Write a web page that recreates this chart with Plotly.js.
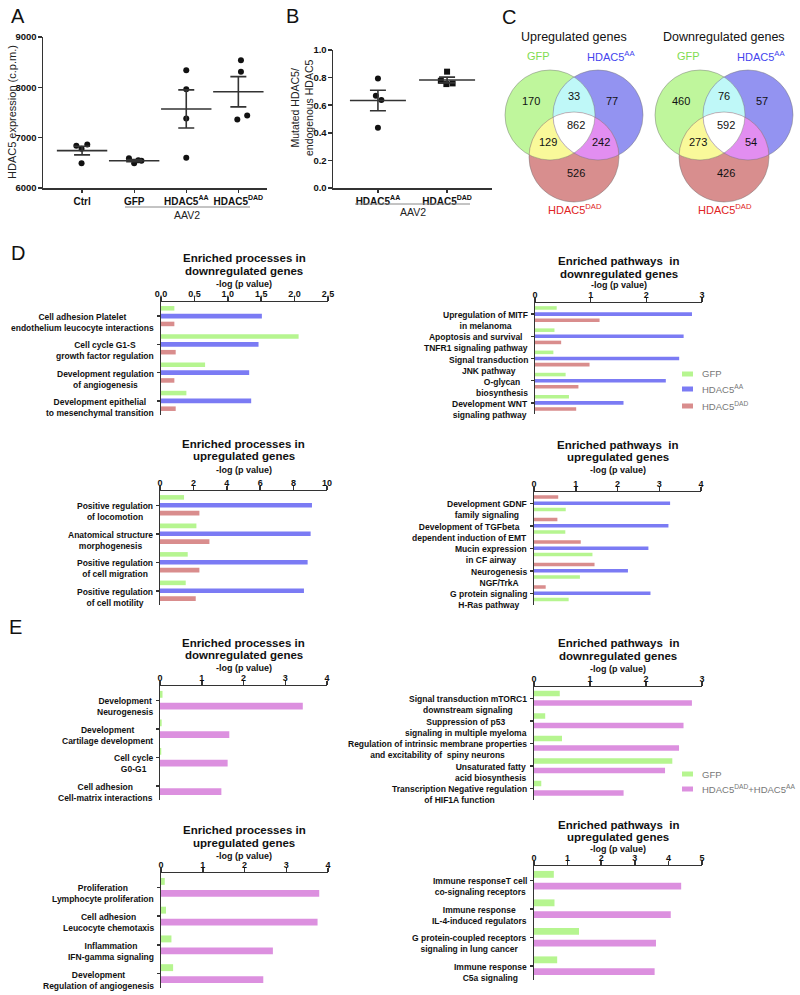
<!DOCTYPE html>
<html><head><meta charset="utf-8">
<script src="https://cdn.plot.ly/plotly-3.0.1.min.js"></script>
<style>html,body{margin:0;padding:0;background:#fff}#chart{width:800px;height:995px}</style>
</head><body><div id="chart"></div>
<script>
// ---------- DATA ----------
const groupsA = ['Ctrl', 'GFP', 'HDAC5<sup>AA</sup>', 'HDAC5<sup>DAD</sup>'];
const ctrlA = [6838, 6778, 6865, 6492];
const gfpA = [6590, 6490, 6550, 6540];
const aaA = [8340, 7960, 7380, 6600];
const dadA = [8540, 8310, 7440, 7360];

const groupsB = ['HDAC5<sup>AA</sup>', 'HDAC5<sup>DAD</sup>'];
const aaB = [0.794, 0.668, 0.637, 0.436];
const dadB = [0.843, 0.777, 0.753, 0.758];

const vennNames = ['GFP', 'HDAC5<sup>AA</sup>', 'HDAC5<sup>DAD</sup>'];
const vennRegions = ['GFP', 'GFP&AA', 'AA', 'all', 'GFP&DAD', 'AA&DAD', 'DAD'];
const upCounts = [170, 33, 77, 862, 129, 242, 526];
const downCounts = [460, 76, 57, 592, 273, 54, 426];

const catsDTL = ['Cell adhesion Platelet<br>endothelium leucocyte interactions', 'Cell cycle G1-S<br>growth factor regulation', 'Development regulation<br>of angiogenesis', 'Development epithelial<br>to mesenchymal transition'];
const gfpDTL = [0.20, 2.06, 0.66, 0.38];
const aaDTL = [1.51, 1.46, 1.32, 1.35];
const dadDTL = [0.20, 0.22, 0.20, 0.22];

const catsDTR = ['Upregulation of MITF<br>in melanoma', 'Apoptosis and survival<br>TNFR1 signaling pathway', 'Signal transduction<br>JNK pathway', 'O-glycan<br>biosynthesis', 'Development WNT<br>signaling pathway'];
const gfpDTR = [0.39, 0.35, 0.33, 0.55, 0.61];
const aaDTR = [2.82, 2.67, 2.59, 2.35, 1.59];
const dadDTR = [1.16, 0.47, 0.98, 0.78, 0.74];

const catsDBL = ['Positive regulation<br>of locomotion', 'Anatomical structure<br>morphogenesis', 'Positive regulation<br>of cell migration', 'Positive regulation<br>of cell motility'];
const gfpDBL = [1.44, 2.18, 1.66, 1.54];
const aaDBL = [9.10, 9.02, 8.84, 8.62];
const dadDBL = [2.36, 2.96, 2.36, 2.14];

const catsDBR = ['Development GDNF<br>family signaling', 'Development of TGFbeta<br>dependent induction of EMT', 'Mucin expression<br>in CF airway', 'Neurogenesis<br>NGF/TrkA', 'G protein signaling<br>H-Ras pathway'];
const dadDBR = [0.58, 0.56, 1.12, 1.45, 0.28];
const aaDBR = [3.26, 3.22, 2.74, 2.25, 2.79];
const gfpDBR = [0.76, 0.75, 1.40, 1.10, 0.83];

const catsETL = ['Development<br>Neurogenesis', 'Development<br>Cartilage development', 'Cell cycle<br>G0-G1', 'Cell adhesion<br>Cell-matrix interactions'];
const gfpETL = [0.06, 0.04, 0.03, 0.0];
const bothETL = [3.42, 1.66, 1.62, 1.47];

const catsETR = ['Signal transduction mTORC1<br>downstream signaling', 'Suppression of p53<br>signaling in multiple myeloma', 'Regulation of intrinsic membrane properties<br>and excitability of  spiny neurons', 'Unsaturated fatty<br>acid biosynthesis', 'Transcription Negative regulation<br>of HIF1A function'];
const gfpETR = [0.46, 0.20, 0.50, 2.47, 0.13];
const bothETR = [2.82, 2.67, 2.59, 2.34, 1.60];

const catsEBL = ['Proliferation<br>Lymphocyte proliferation', 'Cell adhesion<br>Leucocyte chemotaxis', 'Inflammation<br>IFN-gamma signaling', 'Development<br>Regulation of angiogenesis'];
const gfpEBL = [0.09, 0.12, 0.25, 0.29];
const bothEBL = [3.79, 3.75, 2.68, 2.45];

const catsEBR = ['Immune responseT cell<br>co-signaling receptors', 'Immune response<br>IL-4-induced regulators', 'G protein-coupled receptors<br>signaling in lung cancer', 'Immune response<br>C5a signaling'];
const gfpEBR = [0.59, 0.61, 1.34, 0.69];
const bothEBR = [4.38, 4.07, 3.63, 3.59];

const legendD = ['GFP', 'HDAC5<sup>AA</sup>', 'HDAC5<sup>DAD</sup>'];
const legendE = ['GFP', 'HDAC5<sup>DAD</sup>+HDAC5<sup>AA</sup>'];

// ---------- STYLE / LAYOUT HELPERS ----------
const W = 800, H = 995;
const FONT = 'Arial, "Liberation Sans", sans-serif';
const GREEN = '#b6f590', BLUE = '#7b7bf4', RED = '#d98d8d', PINK = '#dc90df';
const AX = '#333333';
const X = px => px / W, Y = py => 1 - py / H;
const dom = (a, b) => [X(a), X(b)];
const domY = (top, bot) => [Y(bot), Y(top)];
const mean = a => a.reduce((s, v) => s + v, 0) / a.length;
const sem = a => { const m = mean(a); return Math.sqrt(a.reduce((s, v) => s + (v - m) ** 2, 0) / (a.length - 1)) / Math.sqrt(a.length); };

const traces = [];
const layout = {
  width: W, height: H, margin: {l: 0, r: 0, t: 0, b: 0},
  paper_bgcolor: '#fff', plot_bgcolor: 'rgba(0,0,0,0)',
  showlegend: false, barmode: 'group', bargap: 0.17, bargroupgap: 0.42,
  font: {family: FONT, color: '#222'},
  annotations: [], shapes: []
};
function ann(x, y, text, o = {}) {
  layout.annotations.push(Object.assign({xref: 'paper', yref: 'paper', x: X(x), y: Y(y), text: text, showarrow: false,
    xanchor: 'center', yanchor: 'middle', font: {family: FONT, size: 11, color: '#111'}}, o));
}

// ---------- PANEL A / B (dot plots with mean ± SEM) ----------
const jitA = [[-0.11, -0.01, 0.10, -0.01], [-0.10, 0.0, 0.08, 0.14], [0, 0, 0, 0], [0.05, 0.05, 0.17, -0.02]];
const jitB = [[0, -0.03, 0.05, 0], [0, -0.09, -0.01, 0.08]];
function dotPanel(idx, groups, sets, jit, symbols, xdom, ydom, xr, yr, dtick, fmt, meanSize) {
  const xa = 'x' + idx, ya = 'y' + idx;
  sets.forEach((vals, g) => {
    traces.push({type: 'scatter', mode: 'markers', xaxis: xa, yaxis: ya, name: groups[g],
      x: vals.map((v, i) => g + jit[g][i]), y: vals,
      marker: {symbol: symbols[g], size: 6, color: '#111'}, cliponaxis: false});
  });
  traces.push({type: 'scatter', mode: 'markers', xaxis: xa, yaxis: ya, name: 'mean ± SEM',
    x: groups.map((_, g) => g), y: sets.map(mean),
    marker: {symbol: 'line-ew', size: meanSize, color: AX, line: {width: 1.6, color: AX}},
    error_y: {type: 'data', array: sets.map(sem), visible: true, color: AX, thickness: 1.6, width: 8}});
  const key = idx === 1 ? '' : idx;
  layout['xaxis' + key] = {domain: xdom, anchor: ya, range: xr, tickvals: groups.map((_, g) => g), ticktext: groups,
    showline: true, linecolor: AX, linewidth: 1.5, ticks: 'outside', ticklen: 3, tickcolor: AX, tickwidth: 1.2,
    showgrid: false, zeroline: false, tickfont: {family: FONT, size: 10, weight: 'bold', color: '#111'}};
  layout['yaxis' + key] = {domain: ydom, anchor: xa, range: yr, dtick: dtick, tickformat: fmt,
    showline: true, linecolor: AX, linewidth: 1.5, ticks: 'outside', ticklen: 4, tickcolor: AX, tickwidth: 1.5,
    ticklabelstandoff: -1,
    showgrid: false, zeroline: false, tickfont: {family: FONT, size: 9.5, weight: 'bold', color: '#111'}};
}
dotPanel(1, groupsA, [ctrlA, gfpA, aaA, dadA], jitA, ['circle', 'circle', 'circle', 'circle'],
  dom(43, 267), domY(37, 188), [-0.75, 3.55], [6000, 9000], 1000, 'd', 36);
dotPanel(2, groupsB, [aaB, dadB], jitB, ['circle', 'square'],
  dom(333, 492), domY(50, 188), [-0.65, 1.65], [0, 1], 0.2, '.1f', 40);

ann(12, 112, 'HDAC5 expression (c.p.m.)', {textangle: -90, font: {family: FONT, size: 11, color: '#222'}});
ann(302, 108, 'Mutated HDAC5/<br>endogenous HDAC5', {textangle: -90, font: {family: FONT, size: 10.5, color: '#222'}});
layout.shapes.push({type: 'line', xref: 'paper', yref: 'paper', x0: X(125), x1: X(250), y0: Y(207), y1: Y(207), line: {color: '#888', width: 1}});
layout.shapes.push({type: 'line', xref: 'paper', yref: 'paper', x0: X(355), x1: X(470), y0: Y(204), y1: Y(204), line: {color: '#888', width: 1}});
ann(187, 215, 'AAV2', {font: {family: FONT, size: 10.5, color: '#222'}});
ann(413, 212, 'AAV2', {font: {family: FONT, size: 10.5, color: '#222'}});

// panel letters
[['A', 18, 16], ['B', 292, 16], ['C', 509, 17], ['D', 18, 253], ['E', 15, 627]].forEach(l =>
  ann(l[1], l[2], l[0], {font: {family: FONT, size: 20, color: '#111'}}));

// ---------- PANEL C (Venn diagrams) ----------
const VR = 45;
const vennOffsets = [[-24, 0], [24, 0], [0, 42]]; // GFP, AA, DAD centre offsets
const vennFill = {single: ['#bff69c', '#9393f1', '#d88e8e'], 'GFP&AA': '#bff8f8', 'GFP&DAD': '#f9f99a', 'AA&DAD': '#e28ef1', all: '#ffffff'};
const vennTextColors = ['#7fdc50', '#4444ee', '#e02424'];
const labelOffsets = [[-43, -14], [0, -19], [38, -14], [2, 10], [-26, 27], [27, 27], [2, 58]];
function pathOf(cs) {
  const pts = [];
  cs.forEach((c, i) => {
    for (let k = 0; k < 720; k++) {
      const t = k / 720 * 2 * Math.PI, p = [c.x + c.r * Math.cos(t), c.y + c.r * Math.sin(t)];
      if (cs.every((o, j) => j === i || Math.hypot(p[0] - o.x, p[1] - o.y) <= o.r + 1e-6)) pts.push(p);
    }
  });
  const cx = mean(pts.map(p => p[0])), cy = mean(pts.map(p => p[1]));
  pts.sort((a, b) => Math.atan2(a[1] - cy, a[0] - cx) - Math.atan2(b[1] - cy, b[0] - cx));
  return 'M' + pts.map(p => X(p[0]).toFixed(5) + ',' + Y(p[1]).toFixed(5)).join('L') + 'Z';
}
function venn(ox, oy, title, counts) {
  const cs = vennOffsets.map(o => ({x: ox + o[0], y: oy + o[1], r: VR}));
  cs.forEach((c, i) => layout.shapes.push({type: 'circle', xref: 'paper', yref: 'paper',
    x0: X(c.x - c.r), x1: X(c.x + c.r), y0: Y(c.y + c.r), y1: Y(c.y - c.r), fillcolor: vennFill.single[i], line: {width: 0}}));
  [[[0, 1], 'GFP&AA'], [[0, 2], 'GFP&DAD'], [[1, 2], 'AA&DAD'], [[0, 1, 2], 'all']].forEach(r =>
    layout.shapes.push({type: 'path', xref: 'paper', yref: 'paper', path: pathOf(r[0].map(i => cs[i])), fillcolor: vennFill[r[1]], line: {width: 0}}));
  cs.forEach((c, i) => layout.shapes.push({type: 'circle', xref: 'paper', yref: 'paper',
    x0: X(c.x - c.r), x1: X(c.x + c.r), y0: Y(c.y + c.r), y1: Y(c.y - c.r), line: {width: 1, color: 'rgba(110,110,110,0.45)'}}));
  counts.forEach((v, i) => ann(ox + labelOffsets[i][0], oy + labelOffsets[i][1], String(v), {font: {family: FONT, size: 11, color: '#111'}}));
  ann(ox, 37, title, {font: {family: FONT, size: 12.5, color: '#111'}});
  ann(ox - 36, 56, vennNames[0], {font: {family: FONT, size: 11, color: vennTextColors[0]}});
  ann(ox + 37, 56, vennNames[1], {font: {family: FONT, size: 11, color: vennTextColors[1]}});
  ann(ox + 1, 209, vennNames[2], {font: {family: FONT, size: 11, color: vennTextColors[2]}});
}
venn(574, 115, 'Upregulated genes', upCounts);
venn(724, 115, 'Downregulated genes', downCounts);

// ---------- PANELS D / E (horizontal grouped bars) ----------
function barPanel(idx, cats, series, box, maxX, dtick, fmt, titles) {
  const xa = 'x' + idx, ya = 'y' + idx;
  series.forEach(s => traces.push({type: 'bar', orientation: 'h', xaxis: xa, yaxis: ya, name: s.name,
    y: cats, x: s.vals, marker: {color: s.color, line: {width: 0}}}));
  layout['xaxis' + idx] = {domain: dom(box[0], box[1]), anchor: ya, side: 'top', range: [0, maxX], dtick: dtick, tickformat: fmt,
    showline: true, linecolor: AX, linewidth: 1.5, ticks: 'outside', ticklen: 4, tickcolor: AX, tickwidth: 1.5,
    ticklabelstandoff: -4,
    showgrid: false, zeroline: false, tickfont: {family: FONT, size: 9, weight: 'bold', color: '#111'}};
  layout['yaxis' + idx] = {domain: domY(box[2], box[3]), anchor: xa, type: 'category', range: [cats.length - 0.5, -0.5],
    showline: true, linecolor: AX, linewidth: 1.5, ticks: 'outside', ticklen: 3, tickcolor: AX, tickwidth: 1.5,
    showticklabels: false, showgrid: false, zeroline: false};
  // category labels: centred two-line blocks, first line level with the tick
  cats.forEach(c => layout.annotations.push({xref: 'paper', yref: ya, x: X(box[0] - 5), y: c, text: c,
    showarrow: false, xanchor: 'right', yanchor: 'top', align: 'center', yshift: 6,
    font: {family: FONT, size: 8.5, weight: 'bold', color: '#111'}}));
  const cx = (box[0] + box[1]) / 2;
  ann(cx, titles[0] - 1, titles[3], {font: {family: FONT, size: 11.5, weight: 'bold', color: '#111'}});
  ann(cx, titles[1] - 1, titles[4], {font: {family: FONT, size: 11.5, weight: 'bold', color: '#111'}});
  ann(cx, titles[2] - 1.5, '-log (p value)', {font: {family: FONT, size: 9, weight: 'bold', color: '#111'}});
}
const sG = v => ({name: legendD[0], vals: v, color: GREEN});
const sA = v => ({name: legendD[1], vals: v, color: BLUE});
const sD = v => ({name: legendD[2], vals: v, color: RED});
const sP = v => ({name: legendE[1], vals: v, color: PINK});

barPanel(3, catsDTL, [sG(gfpDTL), sA(aaDTL), sD(dadDTL)], [161, 328, 302, 415], 2.5, 0.5, '.1f',
  [259, 272, 285, 'Enriched processes in', 'downregulated genes']);
barPanel(4, catsDTR, [sG(gfpDTR), sA(aaDTR), sD(dadDTR)], [535, 702, 303, 414], 3, 1, 'd',
  [262, 275, 287, 'Enriched pathways  in', 'downregulated genes']);
barPanel(5, catsDBL, [sG(gfpDBL), sA(aaDBL), sD(dadDBL)], [160, 327, 491, 605], 10, 2, 'd',
  [445, 457, 472, 'Enriched processes in', 'upregulated genes']);
barPanel(6, catsDBR, [sD(dadDBR), sA(aaDBR), sG(gfpDBR)], [534, 701, 492, 604.5], 4, 1, 'd',
  [446, 458, 472, 'Enriched pathways  in', 'upregulated genes']);
barPanel(7, catsETL, [sG(gfpETL), sP(bothETL)], [160, 327, 686, 800], 4, 1, 'd',
  [644, 656, 669.5, 'Enriched processes in', 'downregulated genes']);
barPanel(8, catsETR, [sG(gfpETR), sP(bothETR)], [534, 702, 687, 799.5], 3, 1, 'd',
  [644, 657, 670, 'Enriched pathways  in', 'downregulated genes']);
barPanel(9, catsEBL, [sG(gfpEBL), sP(bothEBL)], [161, 328, 873, 988], 4, 1, 'd',
  [831, 844, 857, 'Enriched processes in', 'upregulated genes']);
barPanel(10, catsEBR, [sG(gfpEBR), sP(bothEBR)], [534, 702, 866, 980], 5, 1, 'd',
  [826, 838, 850, 'Enriched pathways  in', 'upregulated genes']);

// manual legends (flat swatches as in the original)
function legendBox(x, y, names, colors) {
  names.forEach((n, i) => {
    const yy = y[i];
    layout.shapes.push({type: 'rect', xref: 'paper', yref: 'paper', x0: X(x), x1: X(x + 11), y0: Y(yy + 2.5), y1: Y(yy - 2.5), fillcolor: colors[i], line: {width: 0}});
    ann(x + 18, yy, n, {xanchor: 'left', font: {family: FONT, size: 9.5, color: '#777'}});
  });
}
legendBox(682, [374, 389, 406], legendD, [GREEN, BLUE, RED]);
legendBox(682, [774, 789], legendE, [GREEN, PINK]);

Plotly.newPlot('chart', traces, layout, {staticPlot: true, displayModeBar: false});
</script>
</body></html>
